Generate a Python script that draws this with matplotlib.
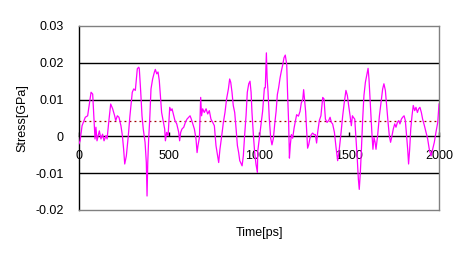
import matplotlib
matplotlib.use("Agg")
import matplotlib.pyplot as plt

time_ps = [0, 6, 17, 35, 48, 67, 76, 89, 94, 100, 113, 122, 131, 139, 150, 156, 165, 176, 187,
           198, 204, 213, 222, 233, 241, 248, 254, 263, 274, 283, 296, 304, 313, 324, 332,
           335, 343, 350, 357, 367, 374, 378, 382, 387, 393, 400, 409, 419, 424, 432, 439,
           446, 452, 459, 469, 476, 480, 487, 495, 498, 504, 511, 517, 524, 533, 543, 554,
           559, 565, 572, 582, 591, 600, 609, 617, 624, 632, 641, 650, 656, 661, 669,
           676, 681, 687, 696, 706, 715, 724, 733, 743, 752, 761, 770, 776, 783, 793, 802,
           811, 820, 830, 837, 843, 850, 857, 865, 872, 880, 887, 893, 898, 906, 913, 920,
           928, 935, 943, 950, 956, 961, 969, 976, 983, 991,
           993, 1002, 1011, 1020, 1030, 1035, 1041, 1045, 1050, 1057, 1065, 1072, 1080,
           1087, 1095, 1102, 1109, 1117, 1124, 1132, 1139, 1146, 1154, 1159, 1165, 1169,
           1174, 1180, 1187, 1195, 1202, 1209, 1219, 1228, 1235, 1243, 1248, 1254, 1259,
           1265, 1270, 1276, 1283, 1291, 1298, 1306, 1313, 1320,
           1326, 1335, 1344, 1354, 1361, 1369, 1378, 1387, 1395, 1402, 1409, 1419, 1428,
           1437, 1446, 1456, 1465, 1474, 1483, 1491, 1498, 1506, 1513, 1519, 1524, 1532,
           1539, 1546, 1552, 1557, 1563, 1569, 1576, 1583, 1591, 1598, 1606, 1611, 1617,
           1622, 1628, 1633, 1639, 1645, 1650,
           1659, 1669, 1678, 1687, 1694, 1702, 1709, 1717, 1724, 1731, 1739, 1746, 1754,
           1761, 1769, 1776, 1783, 1791, 1798, 1806, 1813, 1820, 1826, 1831, 1837, 1843,
           1850, 1857, 1865, 1872, 1880, 1887, 1894, 1902, 1909, 1919, 1928, 1937, 1946,
           1956, 1965, 1974, 1983, 1993, 2000]

stress_gpa = [-0.0020, -0.0012, 0.0029, 0.0052, 0.0056, 0.0120, 0.0115, -0.0007, 0.0025, -0.0012,
              0.0015, -0.0007, 0.0006, -0.0012, 0.0002, -0.0007, 0.0038, 0.0088, 0.0075,
              0.0056, 0.0043, 0.0056, 0.0052, 0.0029, 0.0002, -0.0035, -0.0075, -0.0053,
              0.0002, 0.0056, 0.0120, 0.0129, 0.0125, 0.0184, 0.0188,
              0.0184, 0.0120, 0.0056, 0.0020, -0.0016, -0.0071, -0.0162, -0.0071, -0.0007,
              0.0047, 0.0129, 0.0156, 0.0175, 0.0182, 0.0170, 0.0175,
              0.0152, 0.0111, 0.0065, 0.0038, 0.0020, -0.0012, 0.0011, 0.0002, 0.0029,
              0.0079, 0.0070, 0.0075, 0.0061, 0.0043, 0.0034, 0.0011,
              -0.0012, 0.0011, 0.0020, 0.0025, 0.0038, 0.0047, 0.0052, 0.0056, 0.0047,
              0.0034, 0.0020, -0.0007, -0.0044, -0.0025, -0.0003,
              0.0106, 0.0056, 0.0075, 0.0065, 0.0075, 0.0061, 0.0070, 0.0047, 0.0038,
              0.0029, -0.0025, -0.0053, -0.0071, -0.0035, 0.0002, 0.0038,
              0.0065, 0.0102, 0.0129, 0.0156, 0.0147, 0.0120, 0.0084, 0.0065, 0.0025,
              -0.0025, -0.0044, -0.0066, -0.0071, -0.0080, -0.0053, 0.0002,
              0.0056, 0.0120, 0.0143, 0.0150, 0.0120, 0.0065, 0.0002, -0.0044, -0.0075, -0.0098,
              -0.0041, -0.0005, 0.0032, 0.0068, 0.0132, 0.0132, 0.0227, 0.0159, 0.0123,
              0.0050, -0.0005, -0.0023, -0.0005,
              0.0032, 0.0068, 0.0114, 0.0132, 0.0159, 0.0177, 0.0195, 0.0214, 0.0221,
              0.0195, 0.0114, 0.0032, -0.0059,
              -0.0023, 0.0005, -0.0005, 0.0023, 0.0041, 0.0059, 0.0055, 0.0068, 0.0091,
              0.0100, 0.0127, 0.0095, 0.0068,
              0.0014, -0.0032, -0.0023, -0.0005, 0.0005, 0.0009, 0.0005, 0.0005, -0.0018,
              0.0011, 0.0043, 0.0056, 0.0106, 0.0102, 0.0047, 0.0038, 0.0043, 0.0052,
              0.0038, 0.0034, 0.0011, -0.0030,
              -0.0066, -0.0035, 0.0011, 0.0056, 0.0093, 0.0125, 0.0111, 0.0084, 0.0056,
              0.0029, 0.0056, 0.0052, 0.0047,
              -0.0007, -0.0062, -0.0116, -0.0144, -0.0098, -0.0035, 0.0047, 0.0111, 0.0147,
              0.0165, 0.0185, 0.0156, 0.0102,
              0.0056, 0.0002, -0.0035, -0.0003, -0.0016, -0.0035,
              0.0002, 0.0056, 0.0093, 0.0129, 0.0143, 0.0125, 0.0084, 0.0038, 0.0002,
              -0.0016, 0.0002, 0.0020, 0.0034,
              0.0025, 0.0038, 0.0043, 0.0034, 0.0047, 0.0052, 0.0056, 0.0043, 0.0002,
              -0.0035, -0.0075, -0.0035, 0.0020,
              0.0056, 0.0084, 0.0070, 0.0079, 0.0065, 0.0075, 0.0079, 0.0065, 0.0047,
              0.0029, 0.0011, -0.0007, -0.0035,
              -0.0053, -0.0035, -0.0016, 0.0011, 0.0038, 0.0088]

mean_stress = 0.0041

x_ticks = [0, 500, 1000, 1500, 2000]
y_ticks = [-0.02, -0.01, 0, 0.01, 0.02, 0.03]
y_tick_labels = ["-0.02", "-0.01", "0", "0.01", "0.02", "0.03"]
grid_levels = [-0.01, 0.01, 0.02]

plt.rcParams['font.family'] = ['Liberation Sans', 'DejaVu Sans']

fig = plt.figure(figsize=(4.68, 2.57), dpi=100)
ax = fig.add_axes([79/468, 1-210/257, 360/468, 184/257])

ax.set_xlim(0, 2000)
ax.set_ylim(-0.02, 0.03)

for lv in grid_levels:
    ax.axhline(lv, color='black', lw=1.0, zorder=1)

ax.axhline(mean_stress, color='#A00000', lw=0.9, ls=(0, (1.5, 2.5)), zorder=2)
ax.plot(time_ps, stress_gpa, color='#FF00FF', lw=0.9, zorder=3)

for s in ['top', 'right']:
    ax.spines[s].set_color('#808080')
    ax.spines[s].set_linewidth(1.0)
ax.spines['left'].set_color('black')
ax.spines['left'].set_linewidth(1.0)
ax.spines['bottom'].set_position(('data', 0))
ax.spines['bottom'].set_color('black')
ax.spines['bottom'].set_linewidth(1.0)
ax.plot([0, 1], [0, 0], transform=ax.transAxes, color='#808080', lw=1.0, clip_on=False, zorder=4)

ax.set_xticks(x_ticks)
ax.set_xticklabels([str(v) for v in x_ticks])
ax.tick_params(axis='x', direction='in', length=3, width=1, pad=10, labelsize=9, color='black')
ax.set_yticks(y_ticks)
ax.set_yticklabels(y_tick_labels)
ax.tick_params(axis='y', length=0, pad=11, labelsize=9)

ax.set_ylabel("Stress[GPa]", fontsize=9)
ax.set_xlabel("Time[ps]", fontsize=9)
ax.xaxis.set_label_coords(0.5, -0.095)
ax.yaxis.set_label_coords(-0.14, 0.5)

fig.savefig("out.png", dpi=100)
